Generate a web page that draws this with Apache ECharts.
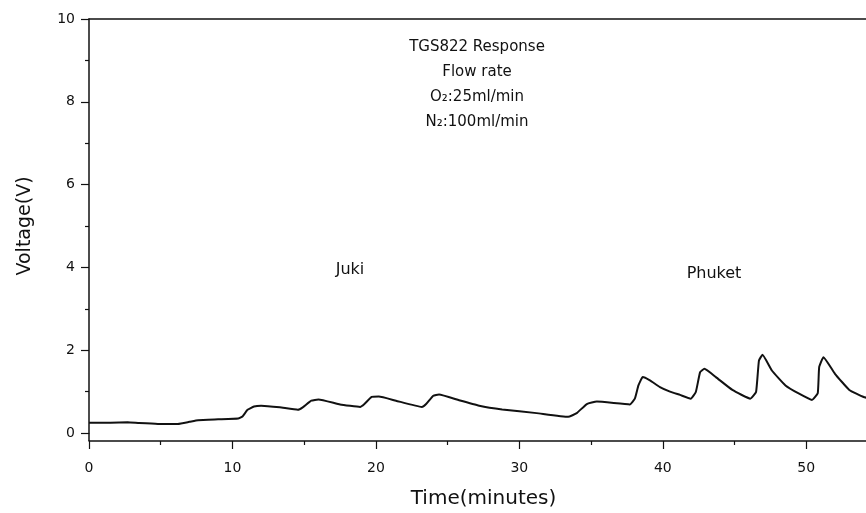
<!DOCTYPE html>
<html>
<head>
<meta charset="utf-8">
<script src="https://cdn.jsdelivr.net/npm/echarts@6/dist/echarts.min.js"></script>
<style>html,body{margin:0;padding:0;background:#fff}#c{width:866px;height:513px}</style>
</head>
<body>
<div id="c"></div>
<script>
const times = [0, 1.5, 2.7, 3.5, 4.8, 6.2, 7.0, 7.6, 9.0, 10.4, 10.7, 11.05, 11.5, 12.0, 13.3, 14.56, 14.9, 15.5, 16.0, 17.5, 18.9, 19.2, 19.7, 20.2, 21.4, 23.2, 23.5, 24.0, 24.4, 25.8, 27.2, 28.8, 31.2, 33.4, 34.0, 34.7, 35.4, 37.7, 38.05, 38.3, 38.6, 39.1, 39.8, 40.5, 41.2, 41.95, 42.3, 42.6, 42.9, 43.7, 44.85, 46.1, 46.5, 46.7, 46.95, 47.6, 48.55, 49.5, 50.4, 50.8, 50.9, 51.2, 52.0, 53.0, 54.0, 54.6];
const voltage = [0.25, 0.25, 0.26, 0.24, 0.22, 0.22, 0.27, 0.31, 0.33, 0.35, 0.40, 0.56, 0.64, 0.66, 0.62, 0.56, 0.62, 0.78, 0.81, 0.69, 0.63, 0.70, 0.87, 0.88, 0.78, 0.63, 0.70, 0.90, 0.93, 0.79, 0.66, 0.57, 0.48, 0.39, 0.48, 0.70, 0.76, 0.69, 0.83, 1.15, 1.35, 1.27, 1.11, 1.00, 0.92, 0.83, 0.99, 1.47, 1.55, 1.35, 1.04, 0.83, 0.99, 1.75, 1.89, 1.51, 1.15, 0.95, 0.80, 0.96, 1.59, 1.83, 1.43, 1.04, 0.87, 0.82];
const xTicks = [0, 10, 20, 30, 40, 50];
const yTicks = [0, 2, 4, 6, 8, 10];
const titleLines = ['TGS822 Response', 'Flow rate', 'O\u2082:25ml/min', 'N\u2082:100ml/min'];
const sampleLabels = ['Juki', 'Phuket'];

const font = 'DejaVu Sans';
const chart = echarts.init(document.getElementById('c'), null, {renderer: 'canvas'});
const data = times.map((t, i) => [t, voltage[i]]);

const option = {
  animation: false,
  backgroundColor: '#fff',
  grid: {left: 89, width: 789, top: 19, height: 414, containLabel: false, outerBoundsMode: 'none'},
  xAxis: [{
    type: 'value', min: 0, max: 55, interval: 10, offset: 8,
    name: 'Time(minutes)', nameLocation: 'middle', nameGap: 48,
    nameTextStyle: {fontFamily: font, fontSize: 20, color: '#111'},
    axisLine: {show: true, onZero: false, lineStyle: {color: '#111', width: 1.5}},
    axisTick: {show: true, length: 8, inside: false, lineStyle: {color: '#111', width: 1.2}},
    minorTick: {show: true, splitNumber: 2, length: 4, lineStyle: {color: '#111', width: 1.2}},
    axisLabel: {fontFamily: font, fontSize: 14, color: '#111', margin: 20,
      formatter: v => xTicks.includes(v) ? String(v) : ''},
    splitLine: {show: false}
  }, {
    type: 'value', min: 0, max: 55, position: 'top',
    axisLine: {show: true, onZero: false, lineStyle: {color: '#111', width: 1.5}},
    axisTick: {show: false}, axisLabel: {show: false}, splitLine: {show: false}
  }],
  yAxis: {
    type: 'value', min: 0, max: 10, interval: 2,
    name: 'Voltage(V)', nameLocation: 'middle', nameGap: 54, nameRotate: 90,
    nameTextStyle: {fontFamily: font, fontSize: 19, color: '#111'},
    axisLine: {show: true, onZero: false, lineStyle: {color: '#111', width: 1.5}},
    axisTick: {show: true, length: 8, lineStyle: {color: '#111', width: 1.2}},
    minorTick: {show: true, splitNumber: 2, length: 4, lineStyle: {color: '#111', width: 1.2}},
    axisLabel: {fontFamily: font, fontSize: 14, color: '#111', margin: 14,
      formatter: v => yTicks.includes(v) ? String(v) : ''},
    splitLine: {show: false}
  },
  series: [{
    type: 'line', data: data, showSymbol: false, smooth: 0.12,
    lineStyle: {color: '#111', width: 2}, clip: true
  }]
};
chart.setOption(option);

const p00 = chart.convertToPixel({xAxisIndex: 0, yAxisIndex: 0}, [0, 0]);
const g = [{
  type: 'line', shape: {x1: p00[0], y1: p00[1], x2: p00[0], y2: p00[1] + 8},
  style: {stroke: '#111', lineWidth: 1.5}
}];
titleLines.forEach((t, i) => {
  g.push({type: 'text', x: 477, y: 47 + i * 25,
    style: {text: t, font: '15px "DejaVu Sans"', fill: '#111', textAlign: 'center', textVerticalAlign: 'middle'}});
});
g.push({type: 'text', x: 350, y: 270, style: {text: sampleLabels[0], font: '16px "DejaVu Sans"', fill: '#111', textAlign: 'center', textVerticalAlign: 'middle'}});
g.push({type: 'text', x: 714, y: 274, style: {text: sampleLabels[1], font: '16px "DejaVu Sans"', fill: '#111', textAlign: 'center', textVerticalAlign: 'middle'}});
chart.setOption({graphic: g});
</script>
</body>
</html>
